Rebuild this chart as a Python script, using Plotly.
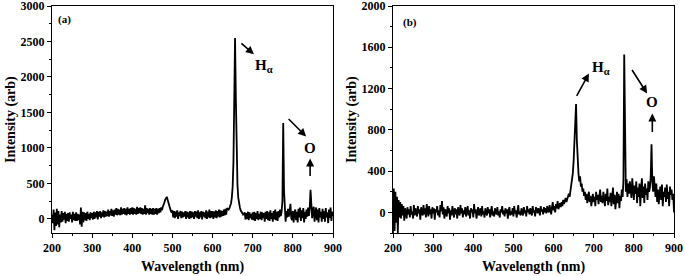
import plotly.graph_objects as go

wavelength = list(range(200, 901, 2))

intensity_a = [
    60, -60, 130, -160, 90, -100, 140, -80, 110, -120,
    60, -50, 110, -40, 80, -10, 100, -60, 70, -30,
    80, -40, 90, 0, 60, -50, 100, -20, 70, -30,
    90, -30, 70, -20, 60, -80, 160, -110, 100, -50,
    90, -20, 80, -30, 100, 0, 70, -20, 90, 10,
    80, -10, 100, 0, 90, 20, 110, -10, 100, 30,
    110, 10, 90, 30, 120, 20, 110, 30, 100, 40,
    130, 30, 110, 50, 140, 40, 120, 30, 130, 60,
    150, 50, 140, 60, 130, 50, 160, 60, 140, 70,
    150, 60, 140, 50, 160, 70, 140, 60, 150, 70,
    160, 60, 150, 70, 140, 60, 170, 70, 150, 80,
    160, 70, 150, 60, 140, 70, 190, 60, 150, 80,
    140, 60, 150, 70, 140, 60, 150, 60, 140, 70,
    150, 60, 140, 80, 150, 90, 160, 120, 170, 190,
    230, 270, 300, 310, 270, 220, 170, 130, 110, 90,
    120, 20, 110, 10, 100, 30, 120, 0, 90, 40,
    110, 10, 100, 20, 90, 30, 110, 0, 100, 20,
    90, 0, 110, 10, 100, 20, 90, 0, 110, 30,
    100, 10, 120, 0, 90, 20, 110, -10, 100, 30,
    90, 10, 120, 0, 100, 20, 130, 10, 110, 20,
    110, 0, 100, 20, 120, 10, 110, 30, 130, 20,
    120, 30, 110, 40, 130, 50, 140, 60, 150, 140,
    130, 150, 180, 220, 300, 450, 800, 1600, 2550, 1700,
    900, 480, 300, 210, 160, 120, 100, 80, 60, 70,
    90, -10, 80, 0, 100, -20, 90, 10, 70, -10,
    90, -20, 100, -30, 80, 0, 110, -20, 70, 0,
    100, -20, 90, 10, 80, -40, 100, 0, 110, -20,
    90, -30, 120, 0, 80, -40, 110, -10, 130, -20,
    100, -30, 110, 20, 130, 40, 100, 250, 1350, 400,
    90, -40, 110, 20, 140, 30, 110, 210, 10, -20,
    110, -50, 90, 130, -20, 100, -50, 140, 20, 160,
    -30, 120, 10, 150, -50, 100, 0, 130, 30, 160,
    40, 150, 410, 160, 10, 120, 170, -40, 110, 160,
    -20, 130, -50, 150, 20, 100, -40, 140, 0, 110,
    -40, 150, 20, 90, -60, 130, 10, 160, -30, 100,
    40,
]

intensity_b = [
    -200, 230, -180, 200, -100, 150, -200, 120, -50, 100,
    -60, 80, -30, 60, -80, 40, 0, -60, 50, -20,
    30, -50, 60, -20, 10, -60, 70, -30, 40, 0,
    -40, 60, -10, 30, -70, 50, 0, -30, 70, -20,
    40, -50, 80, 0, -40, 60, -20, 30, -60, 50,
    -10, 40, -70, 30, 0, 60, -30, 20, -50, 70,
    10, 110, -20, 50, -60, 30, 0, -40, 60, -10,
    40, -70, 20, -30, 60, 0, -50, 40, -20, 30,
    -60, 50, 0, -30, 70, -10, 40, -50, 20, -20,
    50, -40, 10, 60, -30, 20, -60, 40, 0, 30,
    -50, 80, -10, 30, -60, 20, 50, -30, 0, 40,
    -40, 60, -20, 10, -50, 40, 0, -30, 50, -10,
    30, -50, 20, 60, -30, 10, -40, 40, 0, -20,
    50, -30, 10, -50, 30, 0, 60, -20, 20, -40,
    40, -10, 30, -60, 20, 50, -30, 10, -20, 40,
    -40, 60, -10, 20, -50, 30, 70, -20, 10, -30,
    40, 0, -30, 50, -10, 20, -40, 60, 0, 30,
    -20, 40, 10, -30, 60, 0, 20, -40, 50, 10,
    -10, 40, 20, -30, 60, 10, 30, -20, 50, 0,
    40, -10, 60, 20, 0, 70, 30, -20, 50, 100,
    20, 60, 0, 80, 40, 110, 30, 70, 90, 50,
    100, 60, 120, 80, 110, 140, 100, 130, 160, 180,
    150, 200, 240, 300, 380, 500, 650, 850, 1050, 700,
    450, 380, 300, 350, 250, 280, 200, 230, 160, 200,
    120, 180, 90, 150, 200, 100, 160, 60, 130, 180,
    100, 150, 60, 200, 120, 170, 80, 140, 220, 100,
    160, 90, 200, 130, 60, 180, 110, 230, 70, 150,
    100, 190, 60, 140, 240, 80, 170, 30, 150, 200,
    90, 180, 40, 160, 110, 220, 150, 300, 1530, 400,
    200, 320, 150, 280, 180, 300, 220, 140, 330, 200,
    120, 260, 180, 300, 90, 240, 150, 280, 60, 220,
    330, 140, 250, 90, 280, 170, 230, 120, 300, 200,
    240, 350, 660, 300, 200, 350, 260, 150, 280, 100,
    220, 80, 180, 250, 120, 270, 60, 200, 150, 240,
    100, 270, 130, 200, 60, 250, 170, 220, 120, 180,
    0,
]

x_ticks = [200, 300, 400, 500, 600, 700, 800, 900]
y_ticks_a = [0, 500, 1000, 1500, 2000, 2500, 3000]
y_ticks_b = [0, 400, 800, 1200, 1600, 2000]

FONT = "Liberation Serif"
W, H = 685, 276

fig = go.Figure()
fig.add_trace(go.Scatter(x=wavelength, y=intensity_a, mode="lines",
                         line=dict(color="black", width=1.8), xaxis="x", yaxis="y",
                         showlegend=False, hoverinfo="skip"))
fig.add_trace(go.Scatter(x=wavelength, y=intensity_b, mode="lines",
                         line=dict(color="black", width=1.8), xaxis="x2", yaxis="y2",
                         showlegend=False, hoverinfo="skip"))

def xdom(a, b):
    return [a / W, b / W]

def ydom(top, bottom):
    return [1 - bottom / H, 1 - top / H]

tickfont = dict(family=FONT, size=12, color="black", weight="bold")
common_x = dict(range=[200, 900], tickvals=x_ticks, ticks="outside", ticklen=4,
                tickwidth=1, tickcolor="black", showline=True, linecolor="black",
                linewidth=1, mirror=True, showgrid=False, zeroline=False, automargin=False,
                ticklabeloverflow="allow",
                tickfont=tickfont, minor=dict(dtick=50, ticks="outside", ticklen=2,
                                              tickcolor="black", showgrid=False))
common_y = dict(ticks="outside", ticklen=4, tickwidth=1, tickcolor="black",
                showline=True, linecolor="black", linewidth=1, mirror=True, automargin=False,
                ticklabeloverflow="allow",
                showgrid=False, zeroline=False, tickfont=tickfont)

fig.update_layout(
    template="none",
    width=W, height=H, margin=dict(l=0, r=0, t=0, b=0, pad=0, autoexpand=False),
    paper_bgcolor="white", plot_bgcolor="white",
    xaxis=dict(domain=xdom(52, 333), anchor="y", **common_x),
    yaxis=dict(domain=ydom(6, 233), anchor="x", range=[-200, 3000], tickvals=y_ticks_a,
               minor=dict(dtick=250, tick0=0, ticks="outside", ticklen=2, tickcolor="black",
                          showgrid=False), **common_y),
    xaxis2=dict(domain=xdom(393, 674), anchor="y2", **common_x),
    yaxis2=dict(domain=ydom(6, 233), anchor="x2", range=[-200, 2000], tickvals=y_ticks_b,
                minor=dict(dtick=200, tick0=0, ticks="outside", ticklen=2, tickcolor="black",
                           showgrid=False), **common_y),
)

bold = lambda s: "<b>" + s + "</b>"
ann = []
labfont = dict(family=FONT, size=11, color="black")
hfont = dict(family=FONT, size=15, color="black")
ofont = dict(family=FONT, size=15, color="black")
C = dict(xanchor="center", yanchor="middle")

# panel labels
ann.append(dict(x=232, y=2809, xref="x", yref="y", text=bold("(a)"), showarrow=False, font=labfont, **C))
ann.append(dict(x=243, y=1842, xref="x2", yref="y2", text=bold("(b)"), showarrow=False, font=labfont, **C))

# panel a markers
ann.append(dict(x=703, y=2321, xref="x", yref="y", ax=-14, ay=-12, text="", showarrow=True,
                arrowhead=2, arrowsize=1, arrowwidth=1.6, arrowcolor="black"))
ann.append(dict(x=729, y=2150, xref="x", yref="y", text=bold("H<sub>α</sub>"), showarrow=False, font=hfont, **C))
ann.append(dict(x=833, y=1160, xref="x", yref="y", ax=-19, ay=-19, text="", showarrow=True,
                arrowhead=2, arrowsize=1, arrowwidth=1.6, arrowcolor="black"))
ann.append(dict(x=843, y=1005, xref="x", yref="y", text=bold("O"), showarrow=False, font=ofont, **C))
ann.append(dict(x=843, y=849, xref="x", yref="y", ax=0, ay=19, text="", showarrow=True,
                arrowhead=2, arrowsize=1, arrowwidth=1.6, arrowcolor="black"))

# panel b markers
ann.append(dict(x=688, y=1346, xref="x2", yref="y2", ax=-13, ay=24, text="", showarrow=True,
                arrowhead=2, arrowsize=1, arrowwidth=1.6, arrowcolor="black"))
ann.append(dict(x=719, y=1400, xref="x2", yref="y2", text=bold("H<sub>α</sub>"), showarrow=False, font=hfont, **C))
ann.append(dict(x=833, y=1152, xref="x2", yref="y2", ax=-16, ay=-25, text="", showarrow=True,
                arrowhead=2, arrowsize=1, arrowwidth=1.6, arrowcolor="black"))
ann.append(dict(x=846, y=1065, xref="x2", yref="y2", text=bold("O"), showarrow=False, font=ofont, **C))
ann.append(dict(x=846, y=958, xref="x2", yref="y2", ax=0, ay=20, text="", showarrow=True,
                arrowhead=2, arrowsize=1, arrowwidth=1.6, arrowcolor="black"))

# axis titles
tfont = dict(family=FONT, size=14, color="black")
ann.append(dict(x=192.5 / W, y=1 - 267 / H, xref="paper", yref="paper", text=bold("Wavelength (nm)"),
                showarrow=False, font=tfont, **C))
ann.append(dict(x=533 / W, y=1 - 267 / H, xref="paper", yref="paper", text=bold("Wavelength (nm)"),
                showarrow=False, font=tfont, **C))
ann.append(dict(x=11 / W, y=1 - 120 / H, xref="paper", yref="paper", text=bold("Intensity (arb)"),
                showarrow=False, font=tfont, textangle=-90, **C))
ann.append(dict(x=352 / W, y=1 - 120 / H, xref="paper", yref="paper", text=bold("Intensity (arb)"),
                showarrow=False, font=tfont, textangle=-90, **C))

fig.update_layout(annotations=ann)
fig.write_html("out.html", config={"displayModeBar": False},
               post_script="document.body.style.margin='0';document.body.style.padding='0';")
